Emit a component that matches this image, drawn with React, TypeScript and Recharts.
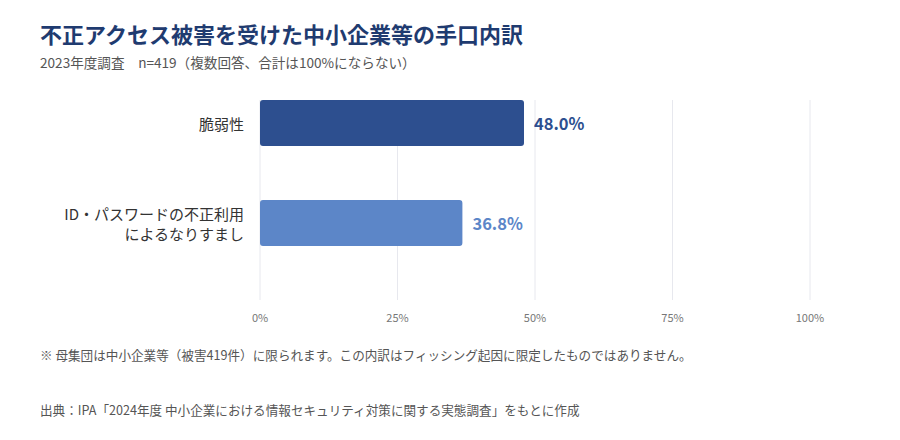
import { BarChart, Bar, XAxis, YAxis, CartesianGrid, Cell, LabelList } from 'recharts';

const categories = ['脆弱性', 'ID・パスワードの不正利用\nによるなりすまし'];
const shares = [48.0, 36.8];
const xTicks = [0, 25, 50, 75, 100];

const COLORS = ['#2d4f8f', '#5c86c8'];
const FONT = "'Noto Sans CJK JP', 'Noto Sans', sans-serif";

const data = categories.map((name, i) => ({ name, value: shares[i] }));

function CategoryTick(props: any) {
  const { x, y, payload } = props;
  const lines = String(payload.value).split('\n');
  const lineH = 20;
  const startY = y - ((lines.length - 1) * lineH) / 2;
  return (
    <text x={x} y={startY} textAnchor="end" fill="#333" fontSize={15} fontFamily={FONT} dominantBaseline="central">
      {lines.map((l, i) => (
        <tspan key={i} x={x} y={startY + i * lineH}>
          {l}
        </tspan>
      ))}
    </text>
  );
}

function ValueLabel(props: any) {
  const { x, y, width, height, value } = props;
  const idx = shares.indexOf(value);
  return (
    <text
      x={x + width + 10}
      y={y + height / 2}
      fill={COLORS[idx]}
      fontSize={16.5}
      fontWeight={700}
      fontFamily={FONT}
      dominantBaseline="central"
    >
      {Number(value).toFixed(1)}%
    </text>
  );
}

export default function App() {
  return (
    <div style={{ position: 'absolute', left: 0, top: 0, width: 900, height: 440, background: '#fff', fontFamily: FONT }}>
      <div style={{ position: 'absolute', left: 40, top: 19, fontSize: 22, lineHeight: '28px', fontWeight: 700, color: '#1f3b70' }}>
        不正アクセス被害を受けた中小企業等の手口内訳
      </div>
      <div style={{ position: 'absolute', left: 40, top: 53, fontSize: 13.6, lineHeight: '18px', color: '#555' }}>
        2023年度調査　n=419（複数回答、合計は100%にならない）
      </div>

      <div style={{ position: 'absolute', left: 0, top: 0 }}>
        <BarChart
          width={900}
          height={440}
          data={data}
          layout="vertical"
          margin={{ top: 100, right: 90, bottom: 110, left: 40 }}
          barSize={46}
        >
          <CartesianGrid horizontal={false} stroke="#e7e8ee" />
          <XAxis
            type="number"
            domain={[0, 100]}
            ticks={xTicks}
            tickFormatter={(v) => `${v}%`}
            axisLine={false}
            tickLine={false}
            tickMargin={8}
            height={30}
            tick={{ fill: '#777', fontSize: 11, fontFamily: FONT }}
          />
          <YAxis
            type="category"
            dataKey="name"
            width={220}
            axisLine={false}
            tickLine={false}
            tickMargin={10}
            padding={{ top: -27, bottom: 27 }}
            tick={<CategoryTick />}
          />
          <Bar dataKey="value" radius={3} isAnimationActive={false}>
            {data.map((d, i) => (
              <Cell key={d.name} fill={COLORS[i]} />
            ))}
            <LabelList dataKey="value" content={<ValueLabel />} />
          </Bar>
        </BarChart>
      </div>

      <div style={{ position: 'absolute', left: 40, top: 346, fontSize: 12.6, lineHeight: '18px', color: '#555' }}>
        ※ 母集団は中小企業等（被害419件）に限られます。この内訳はフィッシング起因に限定したものではありません。
      </div>
      <div style={{ position: 'absolute', left: 40, top: 401, fontSize: 12.6, lineHeight: '18px', color: '#555' }}>
        出典：IPA「2024年度 中小企業における情報セキュリティ対策に関する実態調査」をもとに作成
      </div>
    </div>
  );
}
